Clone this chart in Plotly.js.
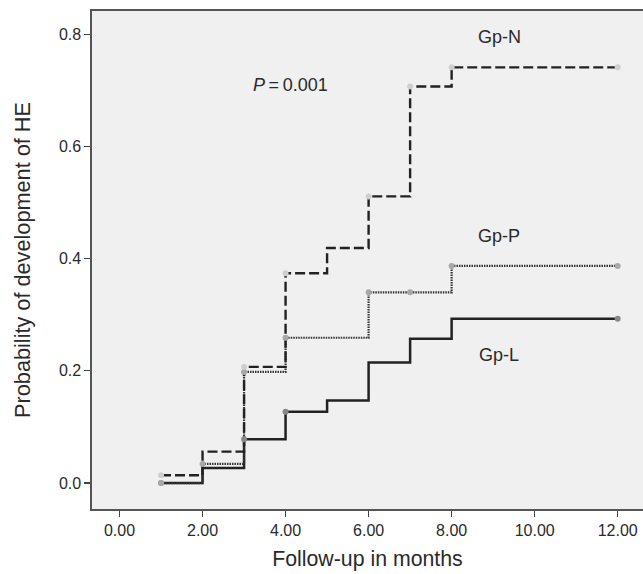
<!DOCTYPE html>
<html>
<head>
<meta charset="utf-8">
<script src="https://cdn.plot.ly/plotly-3.0.1.min.js"></script>
<style>html,body{margin:0;padding:0;background:#fff;}#chart{width:643px;height:574px;}</style>
</head>
<body>
<div id="chart"></div>
<script>
// Follow-up months (step change points)
const monthsN = [1, 2, 3, 4, 5, 6, 7, 8, 12];
const probN   = [0.014, 0.056, 0.207, 0.374, 0.419, 0.511, 0.707, 0.741, 0.741];
const markXN  = [1, 3, 4, 6, 7, 8, 12];
const markYN  = [0.014, 0.207, 0.374, 0.511, 0.707, 0.741, 0.741];

const monthsP = [1, 2, 3, 4, 6, 8, 12];
const probP   = [0.0, 0.034, 0.198, 0.259, 0.340, 0.387, 0.387];
const markXP  = [1, 2, 3, 4, 6, 7, 8, 12];
const markYP  = [0.0, 0.034, 0.198, 0.259, 0.340, 0.340, 0.387, 0.387];

const monthsL = [1, 2, 3, 4, 5, 6, 7, 8, 12];
const probL   = [0.0, 0.027, 0.078, 0.127, 0.147, 0.215, 0.257, 0.293, 0.293];
const markXL  = [1, 3, 4, 12];
const markYL  = [0.0, 0.078, 0.127, 0.293];

const groupLabels = ["Gp-N", "Gp-P", "Gp-L"];
const xTicks = [0, 2, 4, 6, 8, 10, 12];
const yTicks = [0.0, 0.2, 0.4, 0.6, 0.8];

const FONT = "Liberation Sans, Arial, Helvetica, sans-serif";

const traces = [
  {x: monthsL, y: probL, mode: "lines", line: {shape: "hv", color: "#222", width: 2.5}, hoverinfo: "skip"},
  {x: monthsP, y: probP, mode: "lines", line: {shape: "hv", color: "#333", width: 2.2, dash: "1.5px,1px"}, hoverinfo: "skip"},
  {x: monthsN, y: probN, mode: "lines", line: {shape: "hv", color: "#222", width: 2.4, dash: "10px,4px"}, hoverinfo: "skip"},
  {x: markXL, y: markYL, mode: "markers", marker: {color: "#888", size: 6}},
  {x: markXP, y: markYP, mode: "markers", marker: {color: "#a8a8a8", size: 6}},
  {x: markXN, y: markYN, mode: "markers", marker: {color: "#cfcfcf", size: 6}}
];

const layout = {
  width: 643, height: 574,
  margin: {l: 92, r: 0, t: 11, b: 65},
  paper_bgcolor: "#ffffff",
  plot_bgcolor: "#eff0ef",
  showlegend: false,
  font: {family: FONT, color: "#2a2a2a", size: 15.5},
  xaxis: {
    range: [-0.663, 12.61],
    tickvals: xTicks,
    ticktext: xTicks.map(v => v.toFixed(2)),
    ticks: "outside", ticklen: 6, tickwidth: 1.2, tickcolor: "#444",
    showline: true, linecolor: "#555", linewidth: 1.6, mirror: true,
    showgrid: false, zeroline: false,
    tickfont: {size: 16, color: "#2a2a2a"},
    title: {text: "Follow-up in months", font: {size: 21.3, color: "#2a2a2a"}, standoff: 13}
  },
  yaxis: {
    range: [-0.0463, 0.8415],
    tickvals: yTicks,
    ticktext: yTicks.map(v => v.toFixed(1)),
    ticks: "outside", ticklen: 6, tickwidth: 1.2, tickcolor: "#444",
    showline: true, linecolor: "#555", linewidth: 1.6,
    showgrid: false, zeroline: false,
    tickfont: {size: 16, color: "#2a2a2a"},
    title: {text: "Probability of development of HE", font: {size: 21.7, color: "#2a2a2a"}, standoff: 22}
  },
  annotations: [
    {x: 9.15, y: 0.795, xref: "x", yref: "y", text: groupLabels[0], showarrow: false, font: {size: 18}},
    {x: 9.15, y: 0.441, xref: "x", yref: "y", text: groupLabels[1], showarrow: false, font: {size: 18}},
    {x: 9.15, y: 0.228, xref: "x", yref: "y", text: groupLabels[2], showarrow: false, font: {size: 18}},
    {x: 4.11, y: 0.709, xref: "x", yref: "y", text: "<i>P</i>\u2009=\u20090.001", showarrow: false, font: {size: 18}}
  ]
};

Plotly.newPlot("chart", traces, layout, {staticPlot: true, displayModeBar: false});
</script>
</body>
</html>
